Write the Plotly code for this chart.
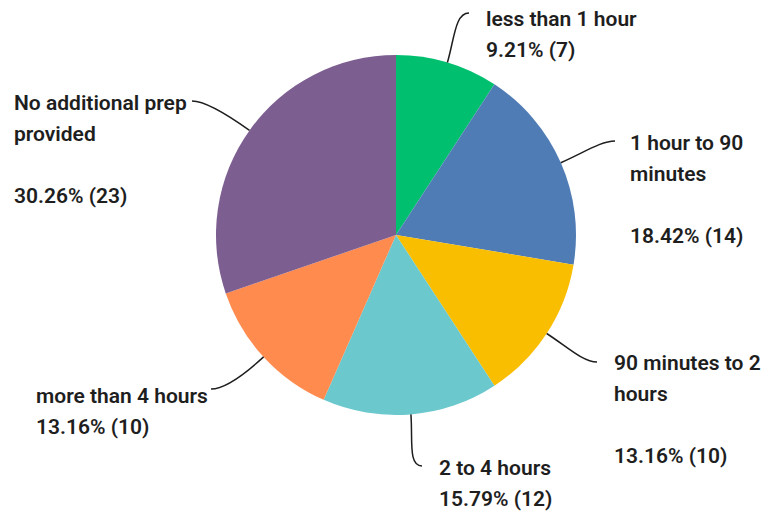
import math
import plotly.graph_objects as go

# data
categories = [
    "less than 1 hour",
    "1 hour to 90 minutes",
    "90 minutes to 2 hours",
    "2 to 4 hours",
    "more than 4 hours",
    "No additional prep provided",
]
label_lines = [
    ["less than 1 hour"],
    ["1 hour to 90", "minutes"],
    ["90 minutes to 2", "hours"],
    ["2 to 4 hours"],
    ["more than 4 hours"],
    ["No additional prep", "provided"],
]
counts = [7, 14, 10, 12, 10, 23]
colors = ["#00BF6F", "#507CB6", "#F9BE00", "#6BC8CD", "#FF8B4F", "#7D5E90"]

# layout (page pixels); the page body has an 8px margin
W, H = 771, 513
PAD = 8
CX, CY, R = 396, 235, 180
LINE_H = 31
FONT = dict(family="Roboto", size=21, color="#1e1e1e", weight=600)

# text left x, first line y, leader line end per slice
label_pos = [
    (484, 19, (469, 13)),
    (628, 143, (615, 141)),
    (612, 363, (597, 362)),
    (437, 468, (422, 466)),
    (34, 396, (211, 389)),
    (12, 103, (192, 101)),
]

total = sum(counts)
FW, FH = W - PAD, H - PAD

fig = go.Figure()
fig.add_trace(
    go.Pie(
        labels=categories,
        values=counts,
        marker=dict(colors=colors, line=dict(width=0)),
        sort=False,
        direction="clockwise",
        rotation=0,
        textinfo="none",
        hoverinfo="label+percent+value",
        showlegend=False,
        domain=dict(
            x=[(CX - R - PAD) / FW, (CX + R - PAD) / FW],
            y=[1 - (CY + R - PAD) / FH, 1 - (CY - R - PAD) / FH],
        ),
    )
)

shapes = []
annotations = []
cum = 0
for i, c in enumerate(counts):
    mid = (cum + c / 2) / total * 2 * math.pi
    cum += c
    dx, dy = math.sin(mid), -math.cos(mid)
    sx, sy = CX + R * dx, CY + R * dy
    tx, ty, (ex, ey) = label_pos[i]
    hdir = 1 if ex < tx else -1
    c1 = (sx + dx * 25, sy + dy * 25)
    c2 = (ex - hdir * 14, ey)
    shapes.append(
        dict(
            type="path",
            xref="x",
            yref="y",
            path=f"M {sx:.1f},{sy:.1f} C {c1[0]:.1f},{c1[1]:.1f} {c2[0]:.1f},{c2[1]:.1f} {ex},{ey}",
            line=dict(color="#1e1e1e", width=1.5),
        )
    )

    lines = list(label_lines[i])
    if len(lines) > 1:
        lines.append("")
    lines.append(f"{c / total * 100:.2f}% ({c})")
    for j, txt in enumerate(lines):
        if not txt:
            continue
        annotations.append(
            dict(
                x=tx,
                y=ty + j * LINE_H,
                xref="x",
                yref="y",
                text=txt,
                showarrow=False,
                xanchor="left",
                yanchor="middle",
                font=FONT,
            )
        )

fig.update_layout(
    width=FW,
    height=FH,
    margin=dict(l=0, r=0, t=0, b=0),
    paper_bgcolor="white",
    plot_bgcolor="white",
    xaxis=dict(range=[PAD, W], visible=False, fixedrange=True),
    yaxis=dict(range=[H, PAD], visible=False, fixedrange=True),
    shapes=shapes,
    annotations=annotations,
)

fig.write_html("out.html")
